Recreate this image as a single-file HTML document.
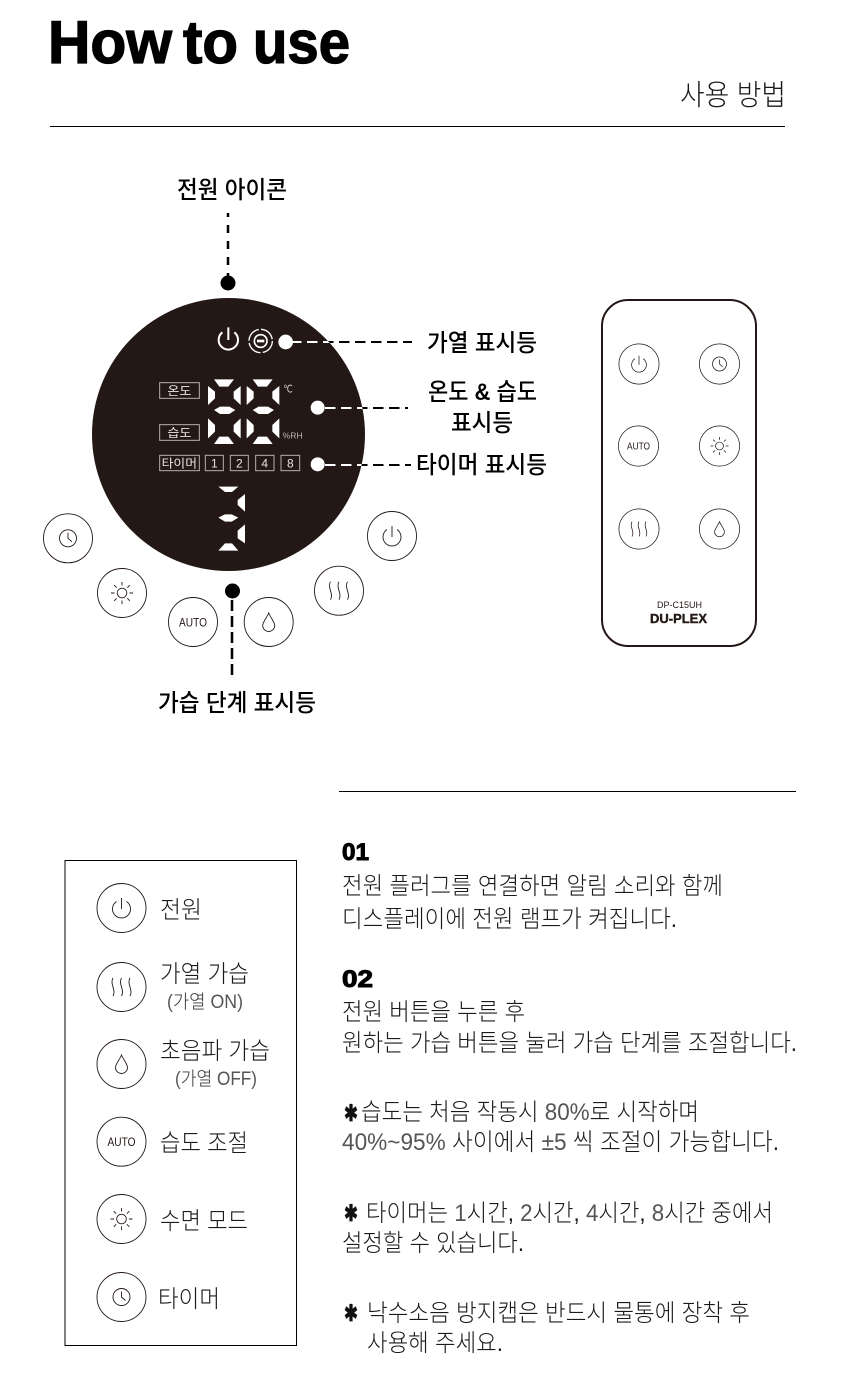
<!DOCTYPE html>
<html lang="ko"><head><meta charset="utf-8"><title>How to use</title>
<style>
html,body{margin:0;padding:0;background:#fff}
svg{display:block}
text{font-family:"Liberation Sans","Noto Sans CJK KR",sans-serif}
.k{font-family:"Liberation Sans","Noto Sans CJK KR",sans-serif;font-size:24px;fill:#1a1a1a;font-weight:300}
.l{fill:#555}
.m{font-family:"Liberation Sans","Noto Sans CJK KR",sans-serif;font-size:24px;fill:#000;font-weight:500}
.s{font-size:19px;fill:#333}
.st{fill:#111;font-size:23px;font-weight:700}
.n{font-size:24px;font-weight:700;fill:#000;stroke:#000;stroke-width:1}
.d{stroke:#000;stroke-width:2;stroke-dasharray:10.5 5.5;fill:none}
.w{stroke:#fff}
.v{stroke:#000;stroke-width:2.5;fill:none}
.b{fill:#fff;stroke:#231815;stroke-width:.9}
.i{fill:none;stroke:#231815;stroke-width:.9}
.t{font-size:60px;font-weight:700;fill:#000;stroke:#000;stroke-width:1.3}
</style></head><body>
<svg width="860" height="1400" viewBox="0 0 860 1400" xmlns="http://www.w3.org/2000/svg">
<defs>
<clipPath id="cp"><circle cx="228.5" cy="434.5" r="136.5"/></clipPath>
<g id="pw"><circle r="24.5" class="b"/><path class="i" d="M-5 -6.5A9 9 0 1 0 5 -6.5M0 -10V1"/></g>
<g id="cl"><circle r="24.5" class="b"/><circle r="8.5" class="i"/><path class="i" d="M0 -5.5V0L4 3.5"/></g>
<g id="su"><circle r="24.5" class="b"/><circle r="4.8" class="i"/><path class="i" d="M0 -11V-7.5M0 7.5V11M-11 0H-7.5M7.5 0H11M-7.8 -7.8L-5.3 -5.3M5.3 5.3L7.8 7.8M-7.8 7.8L-5.3 5.3M5.3 -5.3L7.8 -7.8"/></g>
<g id="he"><circle r="24.5" class="b"/><path class="i" d="M-8.5 -9C-12 -3 -5 3 -8.5 9M0 -9C-3.5 -3 3.5 3 0 9M8.5 -9C5 -3 12 3 8.5 9"/></g>
<g id="dr"><circle r="24.5" class="b"/><path class="i" d="M0 -9C-2 -4 -6 0 -6 3.5A6 6 0 0 0 6 3.5C6 0 2 -4 0 -9Z"/></g>
<g id="au"><circle r="24.5" class="b"/><text x="0" y="4.3" text-anchor="middle" font-size="12" fill="#231815" textLength="28" lengthAdjust="spacingAndGlyphs">AUTO</text></g>
<g id="dg"><path d="M18 0H78L61 22H34ZM0 20L21 37V57L0 77ZM98 20L77 37V57L98 77ZM18 92L36 82H64L82 92L64 104H36ZM0 117L21 137V157L0 177ZM98 117L77 137V157L98 177ZM18 194L34 172H61L78 194Z"/></g>
</defs>

<text class="t" x="48" y="63" textLength="124" lengthAdjust="spacingAndGlyphs">How</text>
<text class="t" x="183" y="63" textLength="55" lengthAdjust="spacingAndGlyphs">to</text>
<text class="t" x="253" y="63" textLength="97" lengthAdjust="spacingAndGlyphs">use</text>
<text class="k" x="680" y="105" style="font-size:29px" textLength="106" lengthAdjust="spacingAndGlyphs">사용 방법</text>
<rect x="50" y="126" width="735" height="1" fill="#000"/>

<!-- panel -->
<text class="m" x="177" y="198" textLength="110" lengthAdjust="spacingAndGlyphs">전원 아이콘</text>
<path class="v" d="M228 213V281" stroke-dasharray="8 8" stroke-dashoffset="4"/>
<circle cx="228" cy="283" r="7.5" fill="#000"/>
<circle cx="228.5" cy="434.5" r="136.5" fill="#231815"/>
<path class="d" d="M291 342H412"/>
<path class="d" d="M325 408H408"/>
<path class="d" d="M325 465H411"/>
<g clip-path="url(#cp)">
<path class="d w" d="M291 342H412"/>
<path class="d w" d="M325 408H408"/>
<path class="d w" d="M325 465H411"/>
</g>
<g transform="translate(90 290) scale(.33333)" fill="#fff">
  <path d="M397 127A29 29 0 1 0 433 127M415 112V150" fill="none" stroke="#fff" stroke-width="6"/>
  <circle cx="512" cy="153" r="35" fill="none" stroke="#fff" stroke-width="4" stroke-dasharray="48 7"/>
  <circle cx="512" cy="153" r="19" fill="none" stroke="#fff" stroke-width="5"/>
  <rect x="501" y="149" width="22" height="8"/>
  <circle cx="587" cy="156" r="22"/><circle cx="683" cy="353" r="21"/><circle cx="683" cy="523" r="21"/>
  <use href="#dg" x="354" y="268"/><use href="#dg" x="470" y="268"/>
  <path d="M385 590H445L426 606H405ZM465 612V665L443 645V630ZM385 683L405 673H425L445 683L425 695H405ZM465 703V760L443 745V722ZM385 782L405 760H426L445 782Z"/>
  <g fill="none" stroke="#b5b0ae" stroke-width="3">
    <rect x="209" y="278" width="119" height="47"/><rect x="209" y="404" width="119" height="47"/><rect x="209" y="496" width="119" height="46"/>
    <rect x="346" y="496" width="54" height="46"/><rect x="421" y="496" width="54" height="46"/><rect x="497" y="496" width="55" height="46"/><rect x="573" y="496" width="56" height="46"/>
  </g>
  <g fill="#e8e6e5" font-size="36" text-anchor="middle" style="font-family:'Liberation Sans','Noto Sans CJK KR',sans-serif">
    <text x="268" y="315" textLength="72" lengthAdjust="spacingAndGlyphs">온도</text>
    <text x="268" y="441" textLength="72" lengthAdjust="spacingAndGlyphs">습도</text>
    <text x="268" y="533" textLength="106" lengthAdjust="spacingAndGlyphs">타이머</text>
    <text x="373" y="533">1</text><text x="448" y="533">2</text><text x="524" y="533">4</text><text x="601" y="533">8</text>
  </g>
  <text x="580" y="308" font-size="32" fill="#d8d6d5" style="font-family:'DejaVu Sans',sans-serif" textLength="28" lengthAdjust="spacingAndGlyphs">℃</text>
  <text x="578" y="445" font-size="24" fill="#bdbab8" textLength="60" lengthAdjust="spacingAndGlyphs">%RH</text>
</g>
<text class="m" x="427" y="351" textLength="110" lengthAdjust="spacingAndGlyphs">가열 표시등</text>
<text class="m" x="428" y="400" textLength="109" lengthAdjust="spacingAndGlyphs">온도 <tspan font-weight="700">&amp;</tspan> 습도</text>
<text class="m" x="451" y="431" textLength="62" lengthAdjust="spacingAndGlyphs">표시등</text>
<text class="m" x="416" y="473" textLength="131" lengthAdjust="spacingAndGlyphs">타이머 표시등</text>

<use href="#cl" x="68" y="538.3"/>
<use href="#su" x="122" y="593"/>
<use href="#au" x="193" y="622"/>
<use href="#dr" x="268.7" y="622"/>
<use href="#he" x="339" y="590.7"/>
<use href="#pw" x="392" y="536"/>
<circle cx="232.5" cy="591" r="7.5" fill="#000"/>
<path class="v" d="M232 600V676" stroke-dasharray="11 5"/>
<text class="m" x="158" y="711" textLength="158" lengthAdjust="spacingAndGlyphs">가습 단계 표시등</text>

<!-- remote -->
<rect x="602" y="300" width="154" height="346" rx="26" fill="#fff" stroke="#231815" stroke-width="2"/>
<g transform="translate(639 364) scale(.82)"><use href="#pw"/></g>
<g transform="translate(719.5 364) scale(.82)"><use href="#cl"/></g>
<g transform="translate(638.5 446) scale(.82)"><use href="#au"/></g>
<g transform="translate(719.5 446) scale(.82)"><use href="#su"/></g>
<g transform="translate(639 529) scale(.82)"><use href="#he"/></g>
<g transform="translate(719.5 529) scale(.82)"><use href="#dr"/></g>
<text x="657" y="608" font-size="9" fill="#231815" textLength="45" lengthAdjust="spacingAndGlyphs">DP-C15UH</text>
<text x="650" y="623" font-size="13" font-weight="700" fill="#231815" stroke="#231815" stroke-width=".4" textLength="57" lengthAdjust="spacingAndGlyphs">DU-PLEX</text>

<!-- legend -->
<rect x="65" y="860.5" width="231.5" height="485" fill="none" stroke="#000" stroke-width="1"/>
<use href="#pw" x="121.5" y="908"/>
<use href="#he" x="121.5" y="987"/>
<use href="#dr" x="121.5" y="1064"/>
<use href="#au" x="121.5" y="1141.7"/>
<use href="#su" x="121.5" y="1219"/>
<use href="#cl" x="121.5" y="1297"/>
<text class="k" x="160" y="918" textLength="42" lengthAdjust="spacingAndGlyphs">전원</text>
<text class="k" x="160" y="982" textLength="89" lengthAdjust="spacingAndGlyphs">가열 가습</text>
<text class="k s" x="167" y="1008" textLength="76" lengthAdjust="spacingAndGlyphs"><tspan class="l">(</tspan>가열 <tspan class="l">ON)</tspan></text>
<text class="k" x="160" y="1059" textLength="110" lengthAdjust="spacingAndGlyphs">초음파 가습</text>
<text class="k s" x="175" y="1085" textLength="82" lengthAdjust="spacingAndGlyphs"><tspan class="l">(</tspan>가열 <tspan class="l">OFF)</tspan></text>
<text class="k" x="160" y="1151" textLength="88" lengthAdjust="spacingAndGlyphs">습도 조절</text>
<text class="k" x="160" y="1229" textLength="88" lengthAdjust="spacingAndGlyphs">수면 모드</text>
<text class="k" x="158" y="1307" textLength="62" lengthAdjust="spacingAndGlyphs">타이머</text>

<!-- text -->
<rect x="339" y="791" width="457" height="1" fill="#000"/>
<text class="n" x="342" y="860" textLength="27" lengthAdjust="spacingAndGlyphs">01</text>
<text class="k" x="342" y="894" textLength="381" lengthAdjust="spacingAndGlyphs">전원 플러그를 연결하면 알림 소리와 함께</text>
<text class="k" x="342" y="927" textLength="335" lengthAdjust="spacingAndGlyphs">디스플레이에 전원 램프가 켜집니다.</text>
<text class="n" x="342" y="987" textLength="31" lengthAdjust="spacingAndGlyphs">02</text>
<text class="k" x="342" y="1020" textLength="183" lengthAdjust="spacingAndGlyphs">전원 버튼을 누른 후</text>
<text class="k" x="342" y="1051" textLength="455" lengthAdjust="spacingAndGlyphs">원하는 가습 버튼을 눌러 가습 단계를 조절합니다.</text>
<text class="st" x="344" y="1121" textLength="14" lengthAdjust="spacingAndGlyphs">✱</text>
<text class="k" x="361" y="1120" textLength="338" lengthAdjust="spacingAndGlyphs">습도는 처음 작동시 <tspan class="l">80%</tspan>로 시작하며</text>
<text class="k" x="342" y="1150" textLength="437" lengthAdjust="spacingAndGlyphs"><tspan class="l">40%~95%</tspan> 사이에서 <tspan class="l">±5</tspan> 씩 조절이 가능합니다.</text>
<text class="st" x="344" y="1221" textLength="14" lengthAdjust="spacingAndGlyphs">✱</text>
<text class="k" x="366" y="1221" textLength="407" lengthAdjust="spacingAndGlyphs">타이머는 <tspan class="l">1</tspan>시간, <tspan class="l">2</tspan>시간, <tspan class="l">4</tspan>시간, <tspan class="l">8</tspan>시간 중에서</text>
<text class="k" x="342" y="1251" textLength="182" lengthAdjust="spacingAndGlyphs">설정할 수 있습니다.</text>
<text class="st" x="344" y="1321" textLength="14" lengthAdjust="spacingAndGlyphs">✱</text>
<text class="k" x="367" y="1321" textLength="383" lengthAdjust="spacingAndGlyphs">낙수소음 방지캡은 반드시 물통에 장착 후</text>
<text class="k" x="367" y="1351" textLength="136" lengthAdjust="spacingAndGlyphs">사용해 주세요.</text>
</svg>
</body></html>
